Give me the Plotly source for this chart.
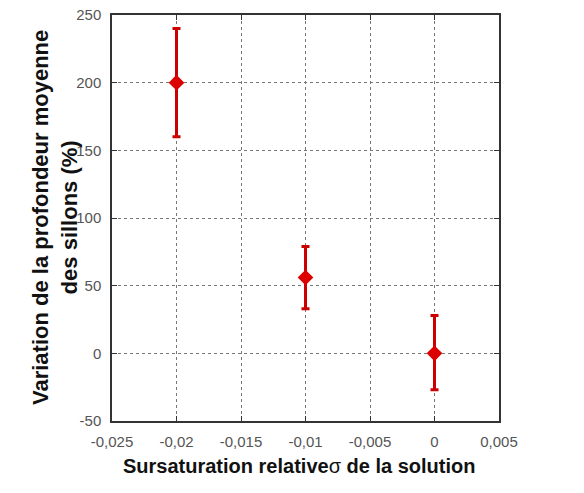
import plotly.graph_objects as go

sigma = [-0.02, -0.01, 0.0]
variation = [200, 56, 0]
err_plus = [40, 23, 28]
err_minus = [40, 23, 27]

x_tickvals = [-0.025, -0.02, -0.015, -0.01, -0.005, 0, 0.005]
x_ticktext = ["-0,025", "-0,02", "-0,015", "-0,01", "-0,005", "0", "0,005"]
y_tickvals = [-50, 0, 50, 100, 150, 200, 250]
y_ticktext = ["-50", "0", "50", "100", "150", "200", "250"]

x_title = "<b>Sursaturation relative</b>σ<b> de la solution</b>"
y_title = "<b>Variation de la profondeur moyenne<br>des sillons (%)</b>"

red = "#cc0000"

fig = go.Figure()
fig.add_trace(go.Scatter(
    x=sigma, y=variation, mode="markers",
    marker=dict(symbol="diamond", size=12, color="#dd0000"),
    error_y=dict(type="data", symmetric=False, array=err_plus, arrayminus=err_minus,
                 color=red, thickness=3, width=4),
    showlegend=False,
))

axis_common = dict(showline=True, linecolor="#333333", linewidth=1.5, mirror="ticks",
                   showgrid=True, gridcolor="#777777", griddash="dot", gridwidth=1,
                   zeroline=False, ticks="inside", ticklen=5, tickcolor="#333333",
                   automargin=False, ticklabelstandoff=6, ticklabeloverflow="allow",
                   tickfont=dict(family="Liberation Sans, Arial", size=15, color="#555555"))

fig.update_xaxes(range=[-0.025, 0.005], tickvals=x_tickvals, ticktext=x_ticktext, **axis_common)
fig.update_yaxes(range=[-50, 250], tickvals=y_tickvals, ticktext=y_ticktext, **axis_common)

fig.add_annotation(text=x_title, xref="paper", yref="paper", x=0.5, y=0,
                   xanchor="center", yanchor="middle", xshift=-7, yshift=-45,
                   showarrow=False,
                   font=dict(family="Liberation Sans, Arial", size=20, color="#111111"))
fig.add_annotation(text=y_title, xref="paper", yref="paper", x=0, y=0.5,
                   xanchor="center", yanchor="middle", xshift=-57, textangle=-90,
                   showarrow=False,
                   font=dict(family="Liberation Sans, Arial", size=22, color="#111111"))

fig.update_layout(
    width=584, height=493,
    margin=dict(l=112, r=85, t=15, b=72),
    plot_bgcolor="white", paper_bgcolor="white",
)

fig.write_html("out.html", config={"displayModeBar": False},
               post_script="document.body.style.margin='0';")
